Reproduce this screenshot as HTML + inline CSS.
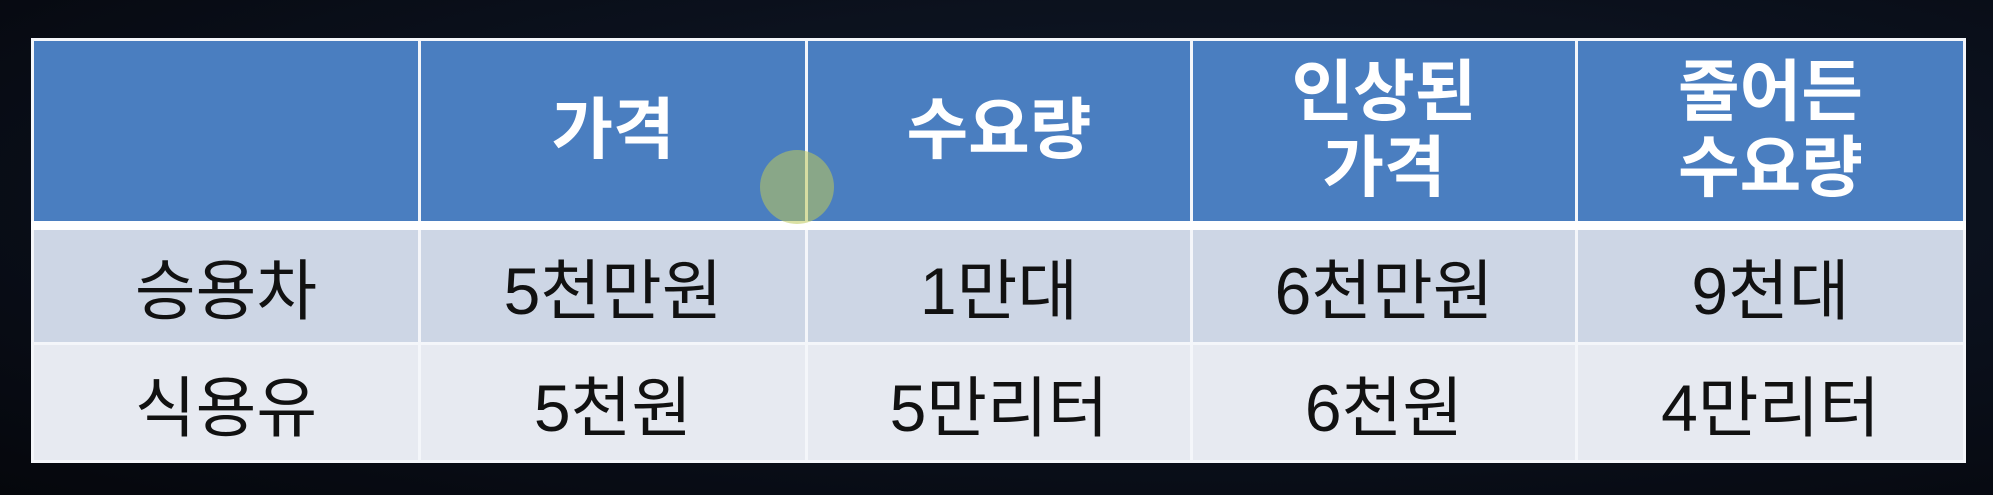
<!DOCTYPE html>
<html><head><meta charset="utf-8">
<style>
html,body{margin:0;padding:0;width:1993px;height:495px;overflow:hidden;background:radial-gradient(ellipse at 60% 40%,#121b2c 0%,#0a0f1a 60%,#05070c 100%);}
#wrap{position:absolute;left:31px;top:38px;width:1932px;height:425px;background:#fff;}
table{border-collapse:collapse;position:absolute;left:0;top:0;width:1932px;height:425px;table-layout:fixed;font-family:"Liberation Sans","Noto Sans CJK KR",sans-serif;}
td,th{text-align:center;vertical-align:middle;padding:0;border:3px solid #f4f6fa;}
th{background:#4a7ec0;color:#fff;font-weight:bold;font-size:67px;line-height:76px;height:180px;}
tr.r1 td{background:#cdd6e5;color:#111;font-size:66px;height:112px;}
tr.r2 td{background:#e7eaf1;color:#111;font-size:66px;}
tr.h th{border-bottom:9px solid #fff;}
#cursor{position:absolute;left:760px;top:150px;width:74px;height:74px;border-radius:50%;background:rgba(190,200,90,0.55);}
</style></head><body>
<div id="wrap">
<table>
<colgroup><col style="width:387px"><col style="width:387px"><col style="width:385px"><col style="width:385px"><col style="width:388px"></colgroup>
<tr class="h">
<th></th>
<th>가격</th>
<th>수요량</th>
<th>인상된<br>가격</th>
<th>줄어든<br>수요량</th>
</tr>
<tr class="r1">
<td>승용차</td>
<td>5천만원</td>
<td>1만대</td>
<td>6천만원</td>
<td>9천대</td>
</tr>
<tr class="r2">
<td>식용유</td>
<td>5천원</td>
<td>5만리터</td>
<td>6천원</td>
<td>4만리터</td>
</tr>
</table>
</div>
<div id="cursor"></div>
</body></html>
